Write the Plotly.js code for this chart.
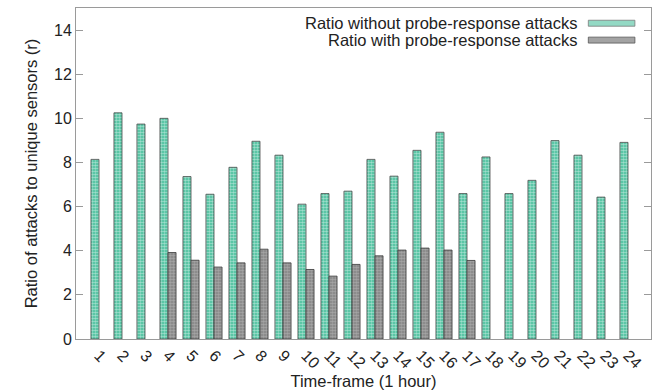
<!DOCTYPE html>
<html>
<head>
<meta charset="utf-8">
<script src="https://cdn.plot.ly/plotly-3.0.1.min.js"></script>
<style>html,body{margin:0;padding:0;background:#fff;}#chart{width:660px;height:391px;}</style>
</head>
<body>
<div id="chart"></div>
<script>
var timeFrames = [1,2,3,4,5,6,7,8,9,10,11,12,13,14,15,16,17,18,19,20,21,22,23,24];
var tickLabels = timeFrames.map(String);
var ratioWithout = [8.14,10.25,9.74,10.0,7.36,6.56,7.78,8.96,8.33,6.11,6.59,6.70,8.14,7.38,8.55,9.37,6.59,8.25,6.59,7.19,8.99,8.33,6.43,8.91];
var ratioWith = [null,null,null,3.92,3.57,3.26,3.45,4.07,3.45,3.15,2.85,3.38,3.77,4.03,4.12,4.03,3.56,null,null,null,null,null,null,null];
var seriesNames = ['Ratio without probe-response attacks','Ratio with probe-response attacks'];

var fontFam = '"Liberation Sans", Arial, sans-serif';
var traces = [
  {type:'bar', name:seriesNames[0], x:timeFrames, y:ratioWithout,
   marker:{color:'#3dbb96', line:{color:'#4a4a4a', width:0.8},
     pattern:{shape:'.', fgcolor:'#ffffff', bgcolor:'#3dbb96', size:3, solidity:0.6, fillmode:'overlay'}},
   showlegend:false, hoverinfo:'skip'},
  {type:'bar', name:seriesNames[1], x:timeFrames, y:ratioWith,
   marker:{color:'#808080', line:{color:'#3a3a3a', width:0.8},
     pattern:{shape:'.', fgcolor:'#c8c8c8', bgcolor:'#808080', size:3, solidity:0.6, fillmode:'overlay'}},
   showlegend:false, hoverinfo:'skip'}
];

var layout = {
  width:660, height:391,
  margin:{l:76, r:9, t:8, b:52},
  paper_bgcolor:'#fff', plot_bgcolor:'#fff',
  barmode:'group', bargap:0.3, bargroupgap:0,
  font:{family:fontFam, size:16, color:'#222'},
  showlegend:false,
  xaxis:{range:[0,25], tickvals:timeFrames, ticktext:tickLabels, tickangle:45,
    showline:true, mirror:true, linecolor:'#9a9a9a', linewidth:1,
    showgrid:false, zeroline:false, ticks:'', tickfont:{size:16, color:'#222'},
    title:{text:'Time-frame (1 hour)', font:{size:16.5, color:'#222'}, standoff:4}},
  yaxis:{range:[0,15], tickvals:[0,2,4,6,8,10,12,14],
    showline:true, mirror:'ticks', linecolor:'#9a9a9a', linewidth:1,
    ticks:'inside', ticklen:7, tickcolor:'#9a9a9a',
    showgrid:false, zeroline:false, tickfont:{size:16, color:'#222'},
    title:{text:'Ratio of attacks to unique sensors (r)', font:{size:16.5, color:'#222'}, standoff:12}},
  annotations:[
    {xref:'paper', yref:'paper', x:0.874, y:0.954, xanchor:'right', yanchor:'middle', showarrow:false,
     text:seriesNames[0], font:{size:16.5, color:'#222'}},
    {xref:'paper', yref:'paper', x:0.874, y:0.903, xanchor:'right', yanchor:'middle', showarrow:false,
     text:seriesNames[1], font:{size:16.5, color:'#222'}}
  ],
  shapes:[
    {type:'rect', xref:'paper', yref:'paper', x0:0.891, x1:0.972, y0:0.945, y1:0.963,
     fillcolor:'#93d9c4', line:{color:'#7a7a7a', width:0.8}},
    {type:'rect', xref:'paper', yref:'paper', x0:0.891, x1:0.972, y0:0.894, y1:0.912,
     fillcolor:'#a3a3a3', line:{color:'#555', width:0.8}}
  ]
};
Plotly.newPlot('chart', traces, layout, {staticPlot:true, displayModeBar:false});
</script>
</body>
</html>
